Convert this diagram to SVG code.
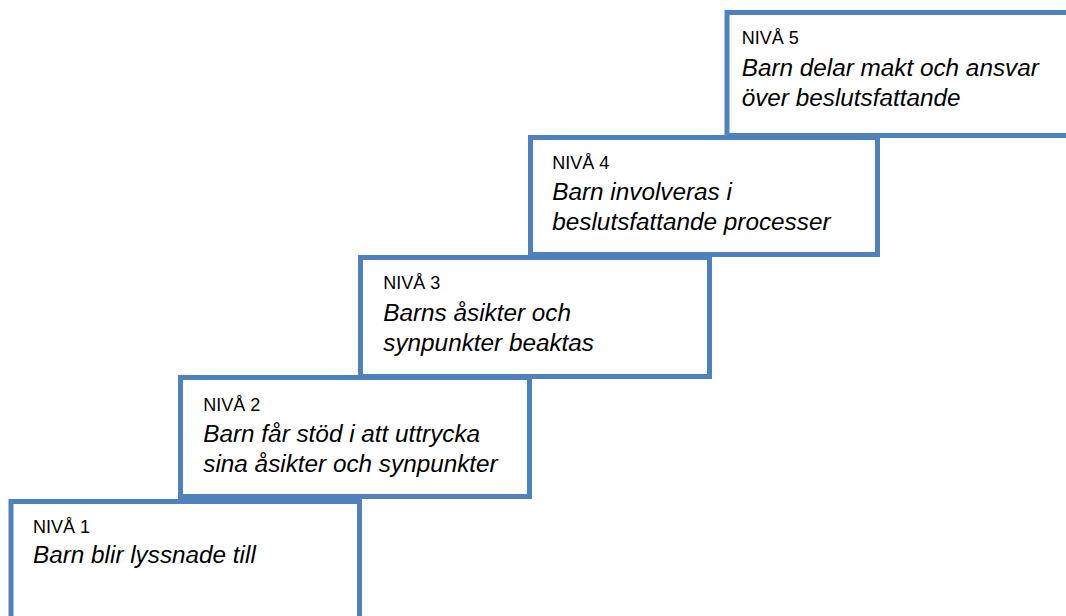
<svg xmlns="http://www.w3.org/2000/svg" width="1066" height="616" viewBox="0 0 1066 616">
<style>
.box{fill:#ffffff;stroke:#4F81BD;stroke-width:5}
.lbl{font-family:"Liberation Sans",Arial,sans-serif;font-size:18px;fill:#000}
.desc{font-family:"Liberation Sans",Arial,sans-serif;font-size:24.3px;font-style:italic;fill:#000}
</style>
<rect width="1066" height="616" fill="#ffffff"/>
<g id="connectors"></g>
<g id="niva1">
<rect class="box" x="11" y="501.5" width="348.5" height="130"/>
<text class="lbl" x="33" y="532.7">NIVÅ 1</text>
<text class="desc" x="33" y="563.3">Barn blir lyssnade till</text>
</g>
<g id="niva2">
<rect class="box" x="180.5" y="377.5" width="349" height="119"/>
<text class="lbl" x="203.3" y="410.7">NIVÅ 2</text>
<text class="desc" x="203.3" y="441.7">Barn får stöd i att uttrycka</text>
<text class="desc" x="203.3" y="471.7">sina åsikter och synpunkter</text>
</g>
<g id="niva3">
<rect class="box" x="360.5" y="257.5" width="349" height="119"/>
<text class="lbl" x="383.3" y="289.3">NIVÅ 3</text>
<text class="desc" x="383.3" y="320.7">Barns åsikter och</text>
<text class="desc" x="383.3" y="350.7">synpunkter beaktas</text>
</g>
<g id="niva4">
<rect class="box" x="530.5" y="137.5" width="347" height="117"/>
<text class="lbl" x="552.3" y="169.3">NIVÅ 4</text>
<text class="desc" x="552.3" y="200">Barn involveras i</text>
<text class="desc" x="552.3" y="230">beslutsfattande processer</text>
</g>
<g id="niva5">
<rect class="box" x="727" y="12.5" width="350" height="123"/>
<text class="lbl" x="741.7" y="44.3">NIVÅ 5</text>
<text class="desc" x="741.7" y="76">Barn delar makt och ansvar</text>
<text class="desc" x="741.7" y="106">över beslutsfattande</text>
</g>
</svg>
